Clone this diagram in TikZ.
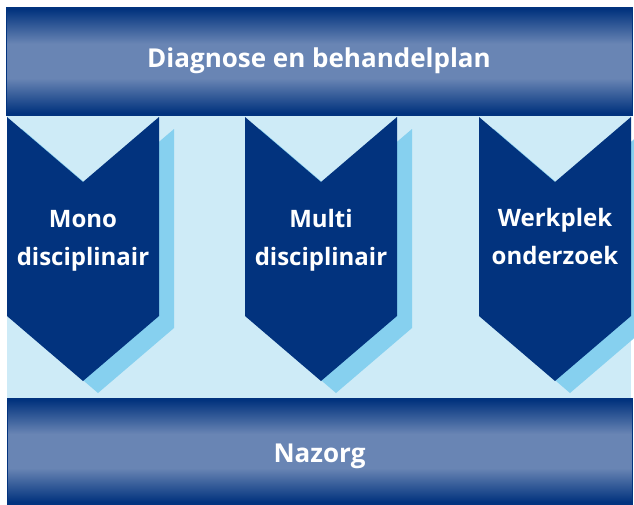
\documentclass[tikz,border=0pt]{standalone}
\usepackage{fontspec}
\setmainfont{Open Sans}

\definecolor{navy}{RGB}{2,51,126}
\definecolor{barmid}{RGB}{105,133,180}
\definecolor{pale}{RGB}{206,235,247}
\definecolor{shadowblue}{RGB}{134,208,239}

\pgfdeclareverticalshading{barshade}{100bp}{color(0bp)=(navy); color(26bp)=(navy);
  color(42bp)=(barmid); color(58bp)=(barmid); color(74bp)=(navy); color(100bp)=(navy)}

\tikzset{
  bar/.style={shading=barshade, draw=navy, line width=0.8pt, text=white,
    font=\bfseries\fontsize{26}{30}\selectfont},
  chevtext/.style={text=white, align=center,
    font=\bfseries\fontsize{24}{38.5}\selectfont},
}

\begin{document}
\begin{tikzpicture}[x=1pt, y=-1pt]
		\useasboundingbox (0,0) rectangle (634,504);
		\fill[pale] (7,115) rectangle (631,398);
		% chevrons with their shadow
		\foreach \cx/\ty/\name/\txt in {83/241/mono/{Mono\\disciplinair},
			321/240.3/multi/{Multi\\disciplinair}, 555/236.7/werkplek/{Werkplek\\onderzoek}} {
			\fill[shadowblue, shift={(15,12)}] (\cx-76,117) -- (\cx,182) -- (\cx+76,117)
				-- (\cx+76,316) -- (\cx,381) -- (\cx-76,316) -- cycle;
			\fill[navy] (\cx-76,117) -- (\cx,182) -- (\cx+76,117)
				-- (\cx+76,316) -- (\cx,381) -- (\cx-76,316) -- cycle;
			\node[chevtext] (\name) at (\cx,\ty) {\txt};
		}
		\node[bar, minimum width=626pt, minimum height=108pt] (plan) at (319,61)
			{Diagnose en behandelplan};
		\node[bar, minimum width=625pt, minimum height=106pt,
			text height=22pt, text depth=0pt] (nazorg) at (319.5,451) {Nazorg};
	\end{tikzpicture}
\end{document}
